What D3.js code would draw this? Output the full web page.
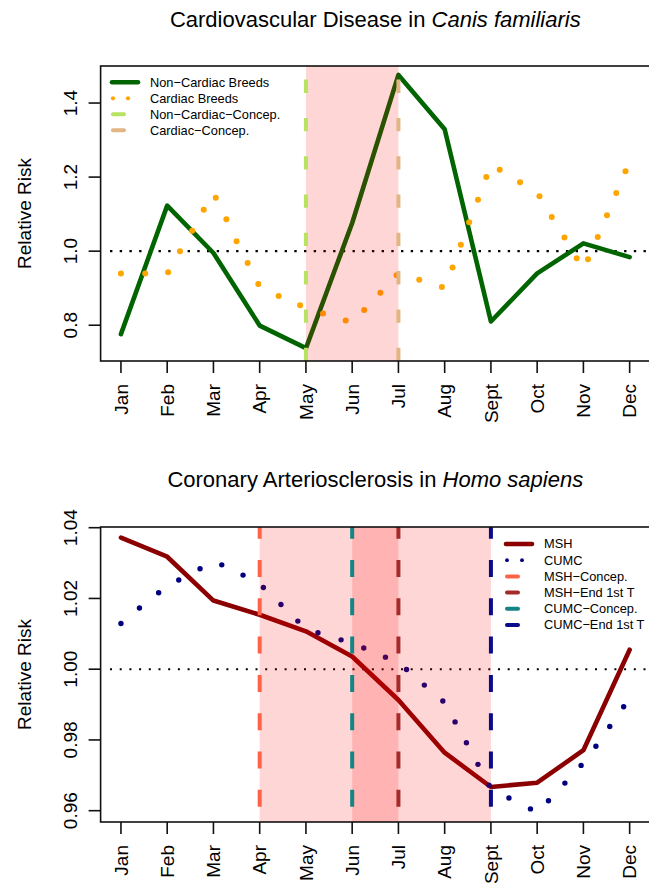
<!DOCTYPE html>
<html>
<head>
<meta charset="utf-8">
<script src="https://cdn.jsdelivr.net/npm/d3@7"></script>
<style>
  html, body { margin: 0; padding: 0; background: #fff; }
  svg { display: block; font-family: "Liberation Sans", Arial, sans-serif; }
</style>
</head>
<body>
<div id="chart"></div>
<script>
// month labels shared by both panels
var months = ["Jan", "Feb", "Mar", "Apr", "May", "Jun", "Jul", "Aug", "Sept", "Oct", "Nov", "Dec"];
var monthIdx = [1, 2, 3, 4, 5, 6, 7, 8, 9, 10, 11, 12];

// top panel: dogs
var nonCardiac = [0.776, 1.123, 0.995, 0.799, 0.738, 1.076, 1.476, 1.329, 0.810, 0.940, 1.021, 0.984];
var cardiacX = [1.00, 1.525, 2.02, 2.275, 2.54, 2.79, 3.05, 3.28, 3.50, 3.74, 3.97, 4.41, 4.875,
                5.37, 5.86, 6.26, 6.61, 6.96, 7.45, 7.94, 8.17, 8.35, 8.53, 8.72, 8.90, 9.19,
                9.63, 10.05, 10.315, 10.59, 10.855, 11.10, 11.31, 11.51, 11.71, 11.91];
var cardiacY = [0.940, 0.940, 0.943, 1.000, 1.055, 1.112, 1.144, 1.086, 1.027, 0.968, 0.911, 0.879, 0.854,
                0.832, 0.813, 0.841, 0.888, 0.935, 0.923, 0.903, 0.956, 1.017, 1.078, 1.139, 1.200, 1.220,
                1.186, 1.148, 1.092, 1.037, 0.981, 0.978, 1.038, 1.097, 1.157, 1.216];
var topTicks = [0.8, 1.0, 1.2, 1.4];
var topShade = [[5, 7]];
var topMarks = [5, 7];   // Non-Cardiac-Concep., Cardiac-Concep.

// bottom panel: humans
var msh = [1.0372, 1.0318, 1.0194, 1.0154, 1.0107, 1.0036, 0.9913, 0.9764, 0.9667, 0.9679, 0.9771, 1.0055];
var cumcX = [1.00, 1.40, 1.815, 2.25, 2.71, 3.18, 3.64, 4.08, 4.46, 4.825, 5.26, 5.76, 6.25, 6.72,
             7.175, 7.56, 7.96, 8.225, 8.47, 8.72, 8.96, 9.39, 9.855, 10.245, 10.60, 10.95, 11.27, 11.57, 11.87];
var cumcY = [1.0129, 1.0173, 1.0216, 1.0252, 1.0284, 1.0295, 1.0266, 1.0231, 1.0183, 1.0136, 1.0103, 1.0083,
             1.0060, 1.0034, 0.9999, 0.9955, 0.9910, 0.9851, 0.9792, 0.9731, 0.9672, 0.9636, 0.9605,
             0.9628, 0.9678, 0.9728, 0.9782, 0.9838, 0.9894];
var botTicks = [0.96, 0.98, 1.00, 1.02, 1.04];
var botShade = [[4, 7], [6, 9]];
var botMarks = [4, 7, 6, 9];  // MSH-Concep., MSH-End 1st T, CUMC-Concep., CUMC-End 1st T

var W = 649, H = 883;
var svg = d3.select("#chart").append("svg").attr("width", W).attr("height", H);

var shadeFill = "rgba(255,0,0,0.16)";

function panel(o) {
  var x = d3.scaleLinear().domain([0.56, 12.44]).range([100.6, 650]);
  var y = d3.scaleLinear().domain(o.ydom).range([o.bottom, o.top]);
  var g = svg.append("g");
  var clipId = "clip" + o.id;
  svg.append("clipPath").attr("id", clipId).append("rect")
    .attr("x", 100.6).attr("y", o.top).attr("width", 549.4).attr("height", o.bottom - o.top);
  var body = g.append("g").attr("clip-path", "url(#" + clipId + ")");

  // reference line at 1
  body.append("line")
    .attr("x1", 110).attr("x2", 650).attr("y1", y(1)).attr("y2", y(1))
    .attr("stroke", "#000").attr("stroke-width", o.dotW)
    .attr("stroke-dasharray", o.dotW + "," + (9.7 - o.dotW));

  // solid series
  body.append("path")
    .datum(o.line)
    .attr("d", d3.line().x(function (d, i) { return x(monthIdx[i]); }).y(function (d) { return y(d); }))
    .attr("fill", "none").attr("stroke", o.lineColor).attr("stroke-width", 4.6)
    .attr("stroke-linejoin", "round").attr("stroke-linecap", "round");

  // dotted series
  body.selectAll("circle.pt").data(o.ptsY).join("circle").attr("class", "pt")
    .attr("cx", function (d, i) { return x(o.ptsX[i]); })
    .attr("cy", function (d) { return y(d); })
    .attr("r", o.ptR).attr("fill", o.ptColor);

  // shaded windows
  body.selectAll("rect.shade").data(o.shade).join("rect").attr("class", "shade")
    .attr("x", function (d) { return x(d[0]); })
    .attr("width", function (d) { return x(d[1]) - x(d[0]); })
    .attr("y", o.top).attr("height", o.bottom - o.top)
    .attr("fill", shadeFill);

  // dashed markers
  body.selectAll("line.mark").data(o.marks).join("line").attr("class", "mark")
    .attr("x1", function (d) { return x(d); }).attr("x2", function (d) { return x(d); })
    .attr("y1", o.dashFromTop ? o.top - o.dashShift : o.bottom)
    .attr("y2", o.dashFromTop ? o.bottom : o.top)
    .attr("stroke", function (d, i) { return o.markColors[i]; })
    .attr("stroke-width", 4)
    .attr("stroke-dasharray", o.dash);

  // frame
  g.append("rect").attr("x", 100.6).attr("y", o.top).attr("width", 549.4).attr("height", o.bottom - o.top)
    .attr("fill", "none").attr("stroke", "#111").attr("stroke-width", 1.6);

  // x axis
  var xa = g.append("g");
  xa.selectAll("line").data(monthIdx).join("line")
    .attr("x1", function (d) { return x(d); }).attr("x2", function (d) { return x(d); })
    .attr("y1", o.bottom).attr("y2", o.bottom + 12)
    .attr("stroke", "#111").attr("stroke-width", 1.6);
  xa.selectAll("text").data(months).join("text")
    .attr("transform", function (d, i) { return "translate(" + x(monthIdx[i]) + "," + (o.bottom + 23) + ") rotate(-90)"; })
    .attr("text-anchor", "end").attr("dy", "0.35em")
    .attr("font-size", 19).attr("fill", "#000").text(function (d) { return d; });

  // y axis
  var ya = g.append("g");
  ya.selectAll("line").data(o.ticks).join("line")
    .attr("x1", 100.6).attr("x2", 88.6)
    .attr("y1", function (d) { return y(d); }).attr("y2", function (d) { return y(d); })
    .attr("stroke", "#111").attr("stroke-width", 1.6);
  ya.selectAll("text").data(o.ticks).join("text")
    .attr("transform", function (d) { return "translate(77," + y(d) + ") rotate(-90)"; })
    .attr("text-anchor", "middle")
    .attr("font-size", 19).attr("fill", "#000").text(function (d) { return d3.format(o.tickFmt)(d); });

  g.append("text")
    .attr("transform", "translate(31," + ((o.top + o.bottom) / 2) + ") rotate(-90)")
    .attr("text-anchor", "middle").attr("font-size", 19).text("Relative Risk");

  // title
  var t = g.append("text").attr("x", 375.3).attr("y", o.titleY)
    .attr("text-anchor", "middle").attr("font-size", 22);
  t.append("tspan").text(o.title[0]);
  t.append("tspan").attr("font-style", "italic").text(o.title[1]);

  // legend
  var lg = g.append("g");
  o.legend.forEach(function (e, i) {
    var cy = o.legY + i * o.legStep;
    if (e.type === "line") {
      lg.append("line").attr("x1", o.legX).attr("x2", o.legX + 26).attr("y1", cy).attr("y2", cy)
        .attr("stroke", e.color).attr("stroke-width", 4.6).attr("stroke-linecap", "round");
    } else if (e.type === "dots") {
      [0, 15].forEach(function (dx) {
        lg.append("circle").attr("cx", o.legX + 1 + dx).attr("cy", cy).attr("r", o.ptR * 0.7).attr("fill", e.color);
      });
    } else {
      lg.append("line").attr("x1", o.legX + 1).attr("x2", o.legX + 12).attr("y1", cy).attr("y2", cy)
        .attr("stroke", e.color).attr("stroke-width", 4).attr("stroke-linecap", "round");
    }
    lg.append("text").attr("x", o.legX + 38).attr("y", cy).attr("dy", "0.35em")
      .attr("font-size", 12.8).text(e.label);
  });
}

panel({
  id: "top", top: 66, bottom: 361, ydom: [0.7034, 1.5], ticks: topTicks, tickFmt: ".1f",
  line: nonCardiac, lineColor: "#006400",
  ptsX: cardiacX, ptsY: cardiacY, ptColor: "#ffa500", ptR: 3,
  shade: topShade, marks: topMarks, markColors: ["#b7e262", "#e2b584"],
  dash: "13.3,25", dashFromTop: false, dotW: 2.4,
  title: ["Cardiovascular Disease in ", "Canis familiaris"], titleY: 26.7,
  legX: 112, legY: 82.3, legStep: 16,
  legend: [
    { type: "line", color: "#006400", label: "Non\u2212Cardiac Breeds" },
    { type: "dots", color: "#ffa500", label: "Cardiac Breeds" },
    { type: "dash", color: "#b7e262", label: "Non\u2212Cardiac\u2212Concep." },
    { type: "dash", color: "#e2b584", label: "Cardiac\u2212Concep." }
  ]
});

panel({
  id: "bot", top: 527, bottom: 822, ydom: [0.9568, 1.0402], ticks: botTicks, tickFmt: ".2f",
  line: msh, lineColor: "#8b0000",
  ptsX: cumcX, ptsY: cumcY, ptColor: "#000080", ptR: 2.7,
  shade: botShade, marks: botMarks, markColors: ["#ff6347", "#a52a2a", "#138585", "#0a0a8a"],
  dash: "17,21.3", dashFromTop: true, dashShift: 5.3, dotW: 2,
  title: ["Coronary Arteriosclerosis in ", "Homo sapiens"], titleY: 486.7,
  legX: 506, legY: 544, legStep: 16.2,
  legend: [
    { type: "line", color: "#8b0000", label: "MSH" },
    { type: "dots", color: "#000080", label: "CUMC" },
    { type: "dash", color: "#ff6347", label: "MSH\u2212Concep." },
    { type: "dash", color: "#a52a2a", label: "MSH\u2212End 1st T" },
    { type: "dash", color: "#138585", label: "CUMC\u2212Concep." },
    { type: "dash", color: "#0a0a8a", label: "CUMC\u2212End 1st T" }
  ]
});
</script>
</body>
</html>
